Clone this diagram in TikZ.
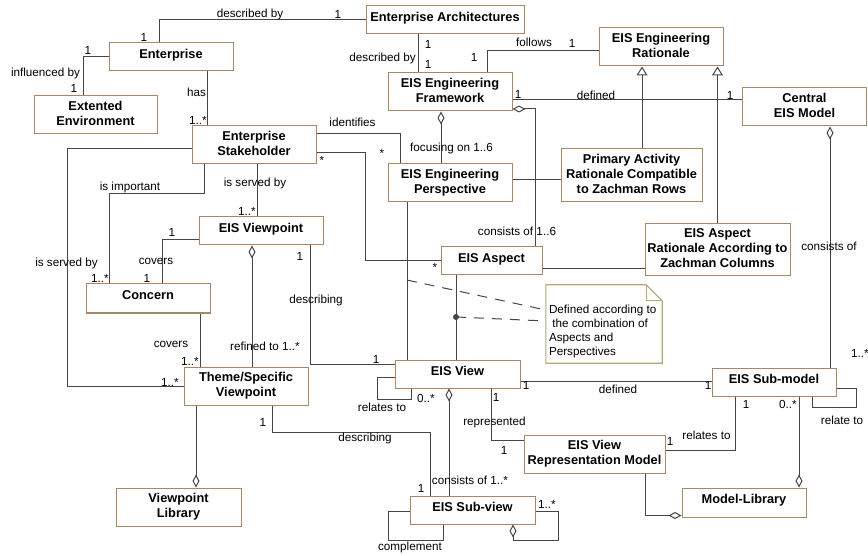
\documentclass[tikz,border=0pt]{standalone}
\usepackage{fontspec}
\setmainfont{Liberation Sans}
\usepackage{xcolor}
\usepackage{tikz}
\usetikzlibrary{arrows.meta, calc}
\definecolor{boxbrown}{RGB}{168,134,104}
\definecolor{linegray}{RGB}{70,70,70}
\definecolor{notekhaki}{RGB}{178,168,124}
\tikzset{
    classbox/.style={
        draw=boxbrown, line width=1pt, fill=white, align=center,
        font=\fontsize{12.8}{15}\selectfont\bfseries,
        minimum width=124pt, minimum height=28pt, inner sep=0pt
    },
    umlbox/.style={
        classbox, text height=9.4pt, text depth=7pt
    },
    tallbox/.style={
        classbox, minimum height=38pt, text depth=3pt
    },
    lbl/.style={
        font=\fontsize{11.7}{13.7}\selectfont, inner sep=0pt
    }
}

\begin{document}
\begin{tikzpicture}[
        x=1pt, y=-1pt,
        % Style cho canh
        assoc/.style={draw=linegray, line width=1pt},
        aggr/.style={assoc, {Diamond[open, length=13pt, width=7pt]}-},
        aggrend/.style={assoc, -{Diamond[open, length=13pt, width=7pt]}},
        gen/.style={assoc, -{Triangle[open, length=9pt, width=11pt]}}
    ]
        \useasboundingbox (0,0) rectangle (868,556);

        % ==========================================
        % CAC LOP
        % ==========================================
        \node[umlbox, minimum width=158pt] (entArch) at (445,20) {Enterprise Architectures};
        \node[umlbox] (ent) at (171,57) {Enterprise};
        \node[tallbox, minimum width=123pt] (extEnv) at (95.5,115) {Extented\\Environment};
        \node[tallbox] (stake) at (254,145) {Enterprise\\Stakeholder};
        \node[tallbox] (engFw) at (450,92) {EIS Engineering\\Framework};
        \node[tallbox] (engPersp) at (450,183) {EIS Engineering\\Perspective};
        \node[tallbox] (engRat) at (661,47) {EIS Engineering\\Rationale};
        \node[tallbox] (central) at (804.5,107) {Central\\EIS Model};
        \node[tallbox, minimum width=141pt, minimum height=53pt] (primRat) at (631.5,175.5) {Primary Activity\\Rationale Compatible\\to Zachman Rows};
        \node[umlbox] (viewpt) at (261,231) {EIS Viewpoint};
        \node[umlbox, minimum height=29pt] (concern) at (148,298.5) {Concern};
        \node[tallbox] (theme) at (246,386) {Theme/Specific\\Viewpoint};
        \node[tallbox, minimum width=125pt] (vpLib) at (178.5,507) {Viewpoint\\Library};
        \node[umlbox, minimum width=101pt] (aspect) at (491.5,261) {EIS Aspect};
        \node[tallbox, minimum width=145pt, minimum height=52pt] (aspRat) at (717.5,250) {EIS Aspect\\Rationale According to\\Zachman Columns};
        \node[umlbox, minimum width=125pt] (view) at (457.5,374) {EIS View};
        \node[umlbox] (subModel) at (774,382) {EIS Sub-model};
        \node[tallbox, minimum width=141pt] (repModel) at (594.5,454) {EIS View\\Representation Model};
        \node[umlbox, minimum height=29pt] (modelLib) at (744,502.5) {Model-Library};
        \node[umlbox, minimum width=125pt] (subView) at (472.5,510) {EIS Sub-view};

        % ==========================================
        % PHAN TREN
        % ==========================================
        % Enterprise -- Enterprise Architectures
        \draw[assoc] ([xshift=-12]ent.north) |- (entArch.west);
        \node[lbl] (descBy1) at (250,14) {described by};
        \node[lbl] (mEntArch1) at (338,14) {1};
        \node[lbl] (mEnt1) at (144,37) {1};

        % Enterprise -- Extented Environment
        \draw[assoc] (ent.west) -| ([xshift=-12.5]extEnv.north);
        \node[lbl] (mEnt2) at (88,50) {1};
        \node[lbl] (inflBy) at (45.5,73) {influenced by};
        \node[lbl] (mExt) at (74,88) {1};

        % Enterprise -- Stakeholder
        \draw[assoc] ([xshift=36]ent.south) -- ([xshift=36]ent.south |- stake.north);
        \node[lbl] (has) at (196.5,92) {has};
        \node[lbl] (mStake1) at (198,120) {1..*};

        % Enterprise Architectures -- Framework
        \draw[assoc] ([xshift=-27]entArch.south) -- ([xshift=-27]entArch.south |- engFw.north);
        \node[lbl, anchor=east] (descBy2) at (416,58) {described by};
        \node[lbl] (mEntArch2) at (428,44) {1};
        \node[lbl] (mFw1) at (428,64) {1};

        % Framework -- Rationale
        \draw[assoc] ([xshift=37]engFw.north) |- ([yshift=-4]engRat.west);
        \node[lbl] (follows) at (534,42) {follows};
        \node[lbl] (mRat) at (572,43) {1};
        \node[lbl] (mFw2) at (474,57) {1};

        % Framework -- Central EIS Model
        \draw[assoc] ([yshift=-8]engFw.east) -- ([yshift=-8]engFw.east -| central.west);
        \node[lbl] (mFw3) at (518,94) {1};
        \node[lbl] (defined1) at (596,95) {defined};
        \node[lbl] (mCentral) at (730,95) {1};

        % Framework <>-- Perspective / Aspect
        \draw[aggr] ([xshift=-9]engFw.south) -- ([xshift=-9]engFw.south |- engPersp.north);
        \node[lbl] (focusOn) at (451.5,148) {focusing on 1..6};
        \draw[aggr] ([yshift=-17]engFw.east) -| ([xshift=43.5]aspect.north);
        \node[lbl] (consOf1) at (517,231) {consists of 1..6};

        % Stakeholder -- Perspective / Aspect
        \draw[assoc] ([yshift=11]stake.east) -| ([xshift=-50]engPersp.north);
        \node[lbl] (identifies) at (352.5,122) {identifies};
        \node[lbl] (mPersp) at (382,153) {*};
        \draw[assoc] ([yshift=-8]stake.east) -| ([xshift=-75]aspect.west) -- (aspect.west);
        \node[lbl] (mStake2) at (322,160) {*};
        \node[lbl] (mAspect) at (435,267) {*};

        % Rationale
        \draw[assoc] ([yshift=3]engPersp.east) -- ([yshift=3]engPersp.east -| primRat.west);
        \draw[assoc] ([yshift=-8]aspect.east) -- ([yshift=-8]aspect.east -| aspRat.west);
        \draw[gen] ([xshift=10.5]primRat.north) -- ([xshift=10.5]primRat.north |- engRat.south);
        \draw[gen] (aspRat.north) -- (aspRat.north |- engRat.south);

        % Central EIS Model <>-- Sub-model
        \draw[aggr] ([xshift=25.5]central.south) -- ([xshift=25.5]central.south |- subModel.north);
        \node[lbl] (consOf2) at (829,246) {consists of};
        \node[lbl] (mSubModel1) at (860,353) {1..*};

        % ==========================================
        % GHI CHU
        % ==========================================
        \draw[assoc] ([xshift=-43]engPersp.south) -- coordinate[pos=0.494] (pvMid) ([xshift=-43]engPersp.south |- view.north);
        \draw[assoc] ([xshift=-35.5]aspect.south) -- coordinate[pos=0.494] (avDot) ([xshift=-35.5]aspect.south |- view.north);
        \fill[linegray] (avDot) circle (3);

        \node[minimum width=116pt, minimum height=78pt] (note) at (604,324) {};
        \draw[assoc, dash pattern=on 10pt off 8pt] (avDot) -- ([yshift=3]note.west);
        \draw[assoc, dash pattern=on 10pt off 8pt] (pvMid) -- ([yshift=14]note.west);
        \draw[notekhaki, line width=1.1pt, fill=white] (note.north west) -- ([xshift=-16]note.north east)
            -- ([yshift=-16]note.north east) -- (note.south east) -- (note.south west) -- cycle;
        \draw[notekhaki, line width=1.1pt] ([xshift=-16]note.north east) |- ([yshift=-16]note.north east);
        \node[lbl, align=left, anchor=west] (noteText) at ([xshift=3, yshift=-7.5]note.west)
            {Defined according to\\\ the combination of\\Aspects and\\Perspectives};

        % ==========================================
        % PHAN TRAI
        % ==========================================
        % Stakeholder -- Viewpoint / Concern / Theme
        \draw[assoc] ([xshift=3]stake.south) -- ([xshift=3]stake.south |- viewpt.north);
        \node[lbl] (servBy1) at (255,183) {is served by};
        \node[lbl] (mViewpt1) at (247,211) {1..*};
        \draw[assoc] ([xshift=-50]stake.south) -- ++(0,29) -| ([xshift=-39]concern.north);
        \node[lbl] (isImp) at (130,187) {is important};
        \node[lbl] (mConcern1) at (100,278) {1..*};
        \draw[assoc] ([yshift=-4]stake.west) -- ++(-124,0) |- (theme.west);
        \node[lbl] (servBy2) at (66.5,263) {is served by};
        \node[lbl] (mTheme1) at (170,382) {1..*};

        % Viewpoint -- Concern
        \draw[assoc] ([yshift=-9]viewpt.west) -| ([xshift=14]concern.north);
        \node[lbl] (mViewpt2) at (172,232) {1};
        \node[lbl] (covers1) at (156,261) {covers};
        \node[lbl] (mConcern2) at (147,278) {1};

        % Concern -- Theme
        \draw[assoc] ([xshift=52]concern.south) -- ([xshift=52]concern.south |- theme.north);
        \node[lbl] (covers2) at (171,344) {covers};
        \node[lbl] (mTheme2) at (190,361) {1..*};

        % Viewpoint <>-- Theme
        \draw[aggr] ([xshift=-9]viewpt.south) -- ([xshift=-9]viewpt.south |- theme.north);
        \node[lbl] (refined) at (265,346) {refined to 1..*};

        % Viewpoint -- View
        \draw[assoc] ([xshift=49]viewpt.south) |- ([yshift=10]view.west);
        \node[lbl] (mViewpt3) at (300,256) {1};
        \node[lbl] (describ1) at (316,300) {describing};
        \node[lbl] (mView1) at (376,359) {1};

        % Theme --<> Viewpoint Library
        \draw[aggrend] ([xshift=-50]theme.south) -- ([xshift=-50]theme.south |- vpLib.north);

        % Theme -- Sub-view
        \draw[assoc] ([xshift=26]theme.south) -- ++(0,27) -| ([xshift=-42.5]subView.north);
        \node[lbl] (mTheme3) at (263,422) {1};
        \node[lbl] (describ2) at (365,438) {describing};
        \node[lbl] (mSubView1) at (421,488) {1};

        % ==========================================
        % PHAN DUOI
        % ==========================================
        % View relates to itself
        \draw[assoc] ([yshift=-3]view.west) -- ++(-17,0) -- ++(0,22) -| ([xshift=-46.5]view.south);
        \node[lbl] (relTo1) at (382,407) {relates to};
        \node[lbl] (mView2) at (426,398) {0..*};

        % View -- Sub-model
        \draw[assoc] ([yshift=-7]view.east) -- ([yshift=-7]view.east -| subModel.west);
        \node[lbl] (mView3) at (526,385) {1};
        \node[lbl] (defined2) at (618,389) {defined};
        \node[lbl] (mSubModel2) at (708,385) {1};

        % View -- Representation Model
        \draw[assoc] ([xshift=33.5]view.south) |- ([yshift=14]repModel.west);
        \node[lbl] (mView4) at (496,397) {1};
        \node[lbl] (repr) at (494.5,422) {represented};
        \node[lbl] (mRep1) at (504,450) {1};

        % View <>-- Sub-view
        \draw[aggr] ([xshift=-8.5]view.south) -- ([xshift=-8.5]view.south |- subView.north);
        \node[lbl] (consOf3) at (470,480) {consists of 1..*};

        % Sub-view loops
        \draw[assoc] ([yshift=-1]subView.west) -- ++(-21,0) -- ++(0,29) -| ([xshift=-29.5]subView.south);
        \node[lbl] (complement) at (410,547) {complement};
        \draw[aggrend] ([yshift=-1]subView.east) -- ++(23,0) -- ++(0,29) -| ([xshift=40.5]subView.south);
        \node[lbl] (mSubView2) at (547,504) {1..*};

        % Sub-model -- Representation Model / Model-Library
        \draw[assoc] ([xshift=-39]subModel.south) |- ([yshift=4]repModel.east);
        \node[lbl] (mSubModel3) at (746,404) {1};
        \node[lbl] (relTo2) at (706.5,435) {relates to};
        \node[lbl] (mRep2) at (670,441) {1};
        \draw[aggrend] ([xshift=25]subModel.south) -- ([xshift=25]subModel.south |- modelLib.north);
        \node[lbl] (mSubModel4) at (788,404) {0..*};
        \draw[aggrend] ([xshift=50.5]repModel.south) |- ([yshift=-13]modelLib.west);

        % Sub-model relates to itself
        \draw[assoc] ([yshift=-6]subModel.east) -- ++(20,0) -- ++(0,19) -| ([xshift=38]subModel.south);
        \node[lbl] (relTo3) at (842,420) {relate to};

    \end{tikzpicture}
\end{document}
